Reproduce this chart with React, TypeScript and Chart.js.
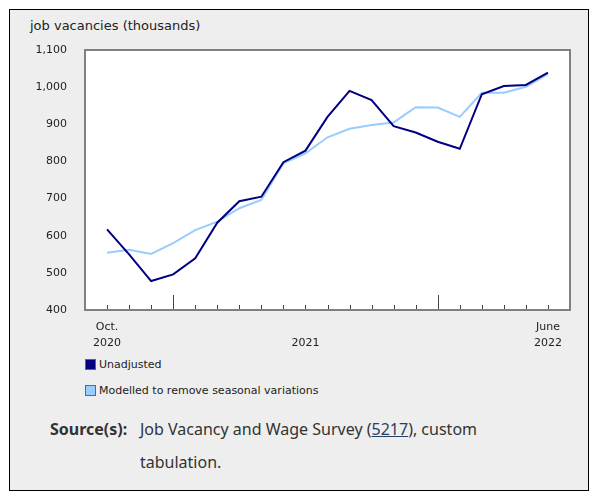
import { useEffect, useRef } from 'react';
import { Chart, ChartConfiguration, Plugin, registerables } from 'chart.js';

Chart.register(...registerables);

// monthly, Oct. 2020 to June 2022
const months = [
  'Oct. 2020', 'Nov. 2020', 'Dec. 2020', 'Jan. 2021', 'Feb. 2021', 'Mar. 2021', 'Apr. 2021',
  'May 2021', 'June 2021', 'July 2021', 'Aug. 2021', 'Sep. 2021', 'Oct. 2021', 'Nov. 2021',
  'Dec. 2021', 'Jan. 2022', 'Feb. 2022', 'Mar. 2022', 'Apr. 2022', 'May 2022', 'June 2022'
];
const unadjusted = [617, 550, 478, 496, 539, 635, 693, 705, 798, 829, 920, 990, 965, 895, 878, 853, 834, 981, 1003, 1006, 1039];
const modelled = [554, 562, 551, 580, 615, 638, 674, 696, 795, 822, 865, 888, 898, 905, 946, 945, 920, 985, 985, 1001, 1035];

const yMin = 400;
const yMax = 1100;
const yStep = 100;

// where the x labels sit (month index) and what they say
const xLabelIndex = [0, 9, 20];
const xLabels = [['Oct.', '2020'], ['', '2021'], ['June', '2022']];
// January months get the long tick
const yearStarts = [3, 15];

const seriesNames = ['Unadjusted', 'Modelled to remove seasonal variations'];
const seriesColors = ['#000080', '#99ccff'];

const FONT = '"DejaVu Sans", Verdana, sans-serif';

const frame: Plugin<'line'> = {
  id: 'frame',
  beforeDatasetsDraw(chart) {
    const { ctx, chartArea: a, scales } = chart;
    ctx.save();
    ctx.fillStyle = '#ffffff';
    ctx.fillRect(a.left, a.top, a.width, a.height);

    // month ticks pointing up from the bottom edge
    ctx.strokeStyle = '#444444';
    ctx.lineWidth = 1;
    months.forEach((_, i) => {
      const px = Math.round(scales.x.getPixelForValue(i)) + 0.5;
      const len = yearStarts.includes(i) ? 15 : 5;
      ctx.beginPath();
      ctx.moveTo(px, a.bottom);
      ctx.lineTo(px, a.bottom - len);
      ctx.stroke();
    });

    ctx.strokeStyle = '#808080';
    ctx.lineWidth = 2;
    ctx.strokeRect(a.left, a.top, a.width, a.height);
    ctx.restore();
  }
};

function VacancyChart() {
  const chartRef = useRef<HTMLCanvasElement>(null);
  const chartInstance = useRef<Chart | null>(null);

  useEffect(() => {
    if (!chartRef.current) return;
    const ctx = chartRef.current.getContext('2d');
    if (!ctx) return;

    const config: ChartConfiguration<'line'> = {
      type: 'line',
      data: {
        datasets: [unadjusted, modelled].map((values, s) => ({
          label: seriesNames[s],
          data: values.map((v, i) => ({ x: i, y: v })),
          borderColor: seriesColors[s],
          backgroundColor: seriesColors[s],
          borderWidth: 2,
          pointRadius: 0,
          tension: 0,
          order: s === 0 ? 0 : 1
        }))
      },
      options: {
        responsive: false,
        animation: false,
        layout: { padding: { top: 50, right: 29, left: 0, bottom: 0 } },
        plugins: {
          legend: { display: false },
          tooltip: { enabled: false }
        },
        scales: {
          x: {
            type: 'linear',
            min: -1,
            max: 21,
            grid: { display: false },
            border: { display: false },
            afterBuildTicks: (axis) => {
              axis.ticks = xLabelIndex.map((v) => ({ value: v }));
            },
            afterFit: (s) => {
              s.height = 45;
            },
            ticks: {
              autoSkip: false,
              maxRotation: 0,
              padding: 1,
              color: '#222222',
              font: { family: FONT, size: 11, lineHeight: 1.45 },
              callback: (value) => xLabels[xLabelIndex.indexOf(Number(value))] ?? ''
            }
          },
          y: {
            min: yMin,
            max: yMax,
            grid: { display: false },
            border: { display: false },
            afterFit: (s) => {
              s.width = 85;
            },
            ticks: {
              stepSize: yStep,
              padding: 10,
              color: '#222222',
              font: { family: FONT, size: 11 },
              callback: (value) => Number(value).toLocaleString('en-US')
            }
          }
        }
      },
      plugins: [frame]
    };

    if (chartInstance.current) {
      chartInstance.current.destroy();
    }
    chartInstance.current = new Chart(ctx, config);

    return () => {
      if (chartInstance.current) {
        chartInstance.current.destroy();
        chartInstance.current = null;
      }
    };
  }, []);

  return (
    <canvas
      ref={chartRef}
      width={599}
      height={355}
      style={{ position: 'absolute', left: 0, top: 0, width: 599, height: 355 }}
    />
  );
}

export default function App() {
  return (
    <div style={{ position: 'absolute', left: 0, top: 0, width: 599, height: 499, background: '#ffffff' }}>
      <div
        style={{
          position: 'absolute',
          left: 9,
          top: 9,
          width: 580,
          height: 482,
          boxSizing: 'border-box',
          border: '1px solid #000000',
          background: '#eeeeee'
        }}
      />
      <div
        style={{
          position: 'absolute',
          left: 30,
          top: 18,
          font: `13px ${FONT}`,
          color: '#222222',
          whiteSpace: 'nowrap'
        }}
      >
        job vacancies (thousands)
      </div>
      <VacancyChart />
      {seriesNames.map((name, s) => (
        <div
          key={name}
          style={{ position: 'absolute', left: 85, top: 359 + s * 26, height: 11, display: 'flex', alignItems: 'center' }}
        >
          <span
            style={{
              display: 'inline-block',
              width: 11,
              height: 11,
              boxSizing: 'border-box',
              border: '1px solid #666666',
              background: seriesColors[s]
            }}
          />
          <span style={{ marginLeft: 3, font: `11px ${FONT}`, color: '#222222', whiteSpace: 'nowrap' }}>{name}</span>
        </div>
      ))}
      <div
        style={{
          position: 'absolute',
          left: 50,
          top: 413,
          display: 'flex',
          fontFamily: '"Noto Sans", "Open Sans", sans-serif',
          fontSize: 16,
          lineHeight: '33px',
          color: '#333333'
        }}
      >
        <div style={{ width: 90, fontWeight: 'bold' }}>Source(s):</div>
        <div style={{ width: 375 }}>
          Job Vacancy and Wage Survey (
          <span style={{ textDecoration: 'underline', color: '#284162' }}>5217</span>
          ), custom tabulation.
        </div>
      </div>
    </div>
  );
}
